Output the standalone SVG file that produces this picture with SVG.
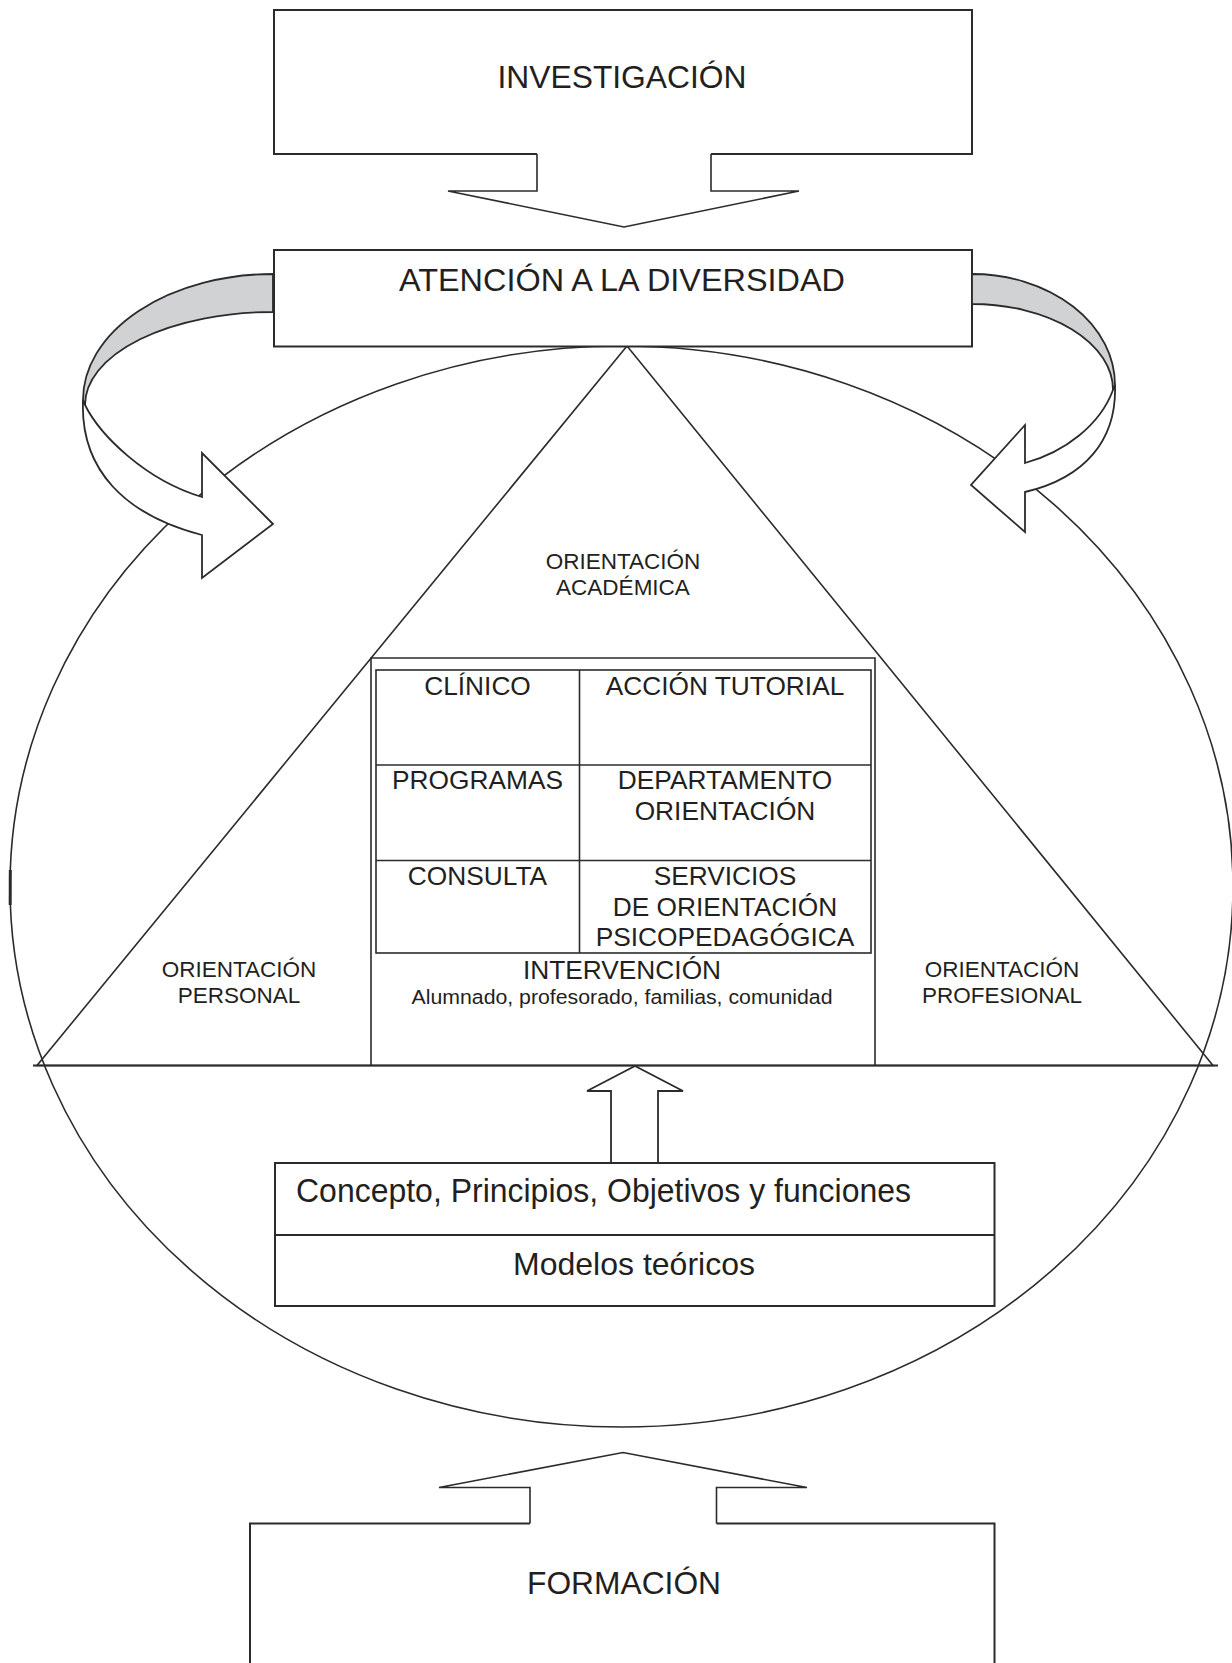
<svg xmlns="http://www.w3.org/2000/svg" width="1232" height="1663" viewBox="0 0 1232 1663">
<style>
.ln{fill:none;stroke:#2b2b2b;stroke-width:1.6}
.bx{fill:#fff;stroke:#2b2b2b;stroke-width:2}
.wf{fill:#fff;stroke:#2b2b2b;stroke-width:1.8;stroke-linejoin:miter}
.gf{fill:#d1d2d4;stroke:#2b2b2b;stroke-width:1.8}
.cov{fill:#fff;stroke:none}
text{font-family:"Liberation Sans",Arial,sans-serif;fill:#231f20}
.big{font-size:32px;text-anchor:middle}
.cell{font-size:26.3px;text-anchor:middle}
.ori{font-size:22.5px;text-anchor:middle}
</style>
<rect width="1232" height="1663" fill="#fff"/>

<g id="ellipse-field">
  <ellipse cx="621.5" cy="886.5" rx="611.5" ry="540.5" class="ln"/>
  <path d="M 10.3 870 L 10.2 905" fill="none" stroke="#2b2b2b" stroke-width="3"/>
</g>

<g id="triangle">
  <polygon points="627,346 37,1065.5 1213,1065.5" class="ln"/>
  <line x1="33" y1="1065.5" x2="1218" y2="1065.5" stroke="#2b2b2b" stroke-width="2.2"/>
  <text class="ori" x="623" y="569">ORIENTACIÓN</text>
  <text class="ori" x="623" y="595">ACADÉMICA</text>
  <text class="ori" x="239" y="977">ORIENTACIÓN</text>
  <text class="ori" x="239" y="1003">PERSONAL</text>
  <text class="ori" x="1002" y="977">ORIENTACIÓN</text>
  <text class="ori" x="1002" y="1003">PROFESIONAL</text>
</g>

<g id="intervencion">
  <polyline points="371,1065.5 371,658 875,658 875,1065.5" class="ln"/>
  <text class="cell" x="622" y="978.5">INTERVENCIÓN</text>
  <text x="622" y="1003.5" font-size="20.5" text-anchor="middle" textLength="421" lengthAdjust="spacingAndGlyphs">Alumnado, profesorado, familias, comunidad</text>
</g>

<g id="grid">
  <rect x="376" y="670" width="495" height="283" class="ln"/>
  <line x1="579.5" y1="670" x2="579.5" y2="953" class="ln"/>
  <line x1="376" y1="765" x2="871" y2="765" class="ln"/>
  <line x1="376" y1="860.5" x2="871" y2="860.5" class="ln"/>
  <text class="cell" x="477.5" y="694.5">CLÍNICO</text>
  <text class="cell" x="725" y="694.5">ACCIÓN TUTORIAL</text>
  <text class="cell" x="477.5" y="788.5">PROGRAMAS</text>
  <text class="cell" x="725" y="788.5">DEPARTAMENTO</text>
  <text class="cell" x="725" y="820">ORIENTACIÓN</text>
  <text class="cell" x="477.5" y="885">CONSULTA</text>
  <text class="cell" x="725" y="885">SERVICIOS</text>
  <text class="cell" x="725" y="915.5">DE ORIENTACIÓN</text>
  <text class="cell" x="725" y="946">PSICOPEDAGÓGICA</text>
</g>

<g id="fundamentos">
  <rect x="275" y="1163" width="719.5" height="143" class="bx"/>
  <line x1="275" y1="1235" x2="994.5" y2="1235" stroke="#2b2b2b" stroke-width="2"/>
  <text x="296" y="1202" font-size="33.5" textLength="615" lengthAdjust="spacingAndGlyphs">Concepto, Principios, Objetivos y funciones</text>
  <text class="big" x="634" y="1274.5" font-size="33.5" textLength="242" lengthAdjust="spacingAndGlyphs">Modelos teóricos</text>
</g>

<g id="investigacion">
  <rect x="274" y="10" width="698" height="144" class="bx"/>
  <text class="big" x="622" y="88" font-size="34.5" textLength="249" lengthAdjust="spacingAndGlyphs">INVESTIGACIÓN</text>
</g>

<g id="atencion">
  <rect x="274" y="250" width="698" height="96.5" class="bx"/>
  <text class="big" x="622" y="290.5" textLength="446" lengthAdjust="spacingAndGlyphs">ATENCIÓN A LA DIVERSIDAD</text>
</g>

<g id="formacion">
  <rect x="250" y="1523.5" width="744.5" height="160" class="bx"/>
  <text class="big" x="624" y="1593.5" font-size="34" textLength="194" lengthAdjust="spacingAndGlyphs">FORMACIÓN</text>
</g>

<g id="connectors">
  <polygon class="cov" points="537,151 711,151 711,191 799,191 624,227 448,191 537,191"/>
  <polyline class="ln" stroke-width="1.8" points="537,154 537,191 448,191 624,227 799,191 711,191 711,154"/>

  <polygon class="cov" points="530,1526.5 530,1487.5 439,1487.5 623,1452.5 807,1487.5 716.5,1487.5 716.5,1526.5"/>
  <polyline class="ln" stroke-width="1.8" points="530,1523.5 530,1487.5 439,1487.5 623,1452.5 807,1487.5 716.5,1487.5 716.5,1523.5"/>

  <polygon class="wf" points="611,1163 611,1091 587,1091 635,1066 683,1091 658,1091 658,1163"/>

  <path class="gf" d="M 273 274 A 190 126 0 0 0 83 400 L 85 405 A 188 93 0 0 1 273 312 Z"/>
  <path class="wf" d="M 83 400 C 80 470, 125 515, 202 535 L 202 578 L 273 524 L 202 453 L 202 497 C 145 480, 100 435, 85 405 Z"/>

  <path class="gf" d="M 972 274 A 143 111 0 0 1 1115 385 L 1113 390 A 141 86 0 0 0 972 304 Z"/>
  <path class="wf" d="M 1115 385 C 1117 440, 1085 478, 1025 492 L 1025 532 L 971 485 L 1025 425 L 1025 463 C 1065 452, 1100 425, 1113 390 Z"/>
</g>
</svg>
